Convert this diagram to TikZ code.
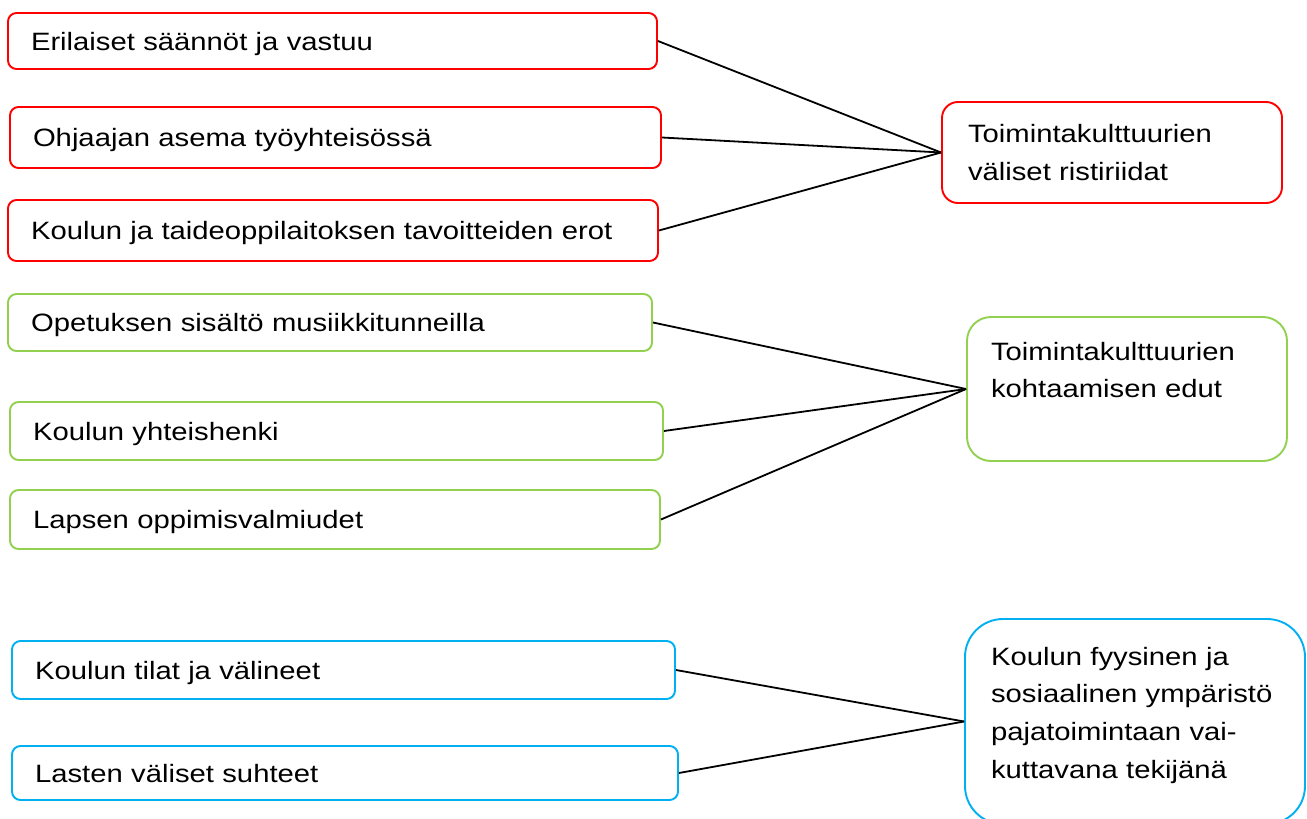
\documentclass[tikz,border=0pt]{standalone}
\usepackage{fontspec}
\setmainfont{Liberation Sans}[FakeStretch=1.165]
\definecolor{boxred}{HTML}{FF0000}
\definecolor{boxgreen}{HTML}{92D050}
\definecolor{boxblue}{HTML}{00B0F0}
\tikzset{
  item/.style={draw=#1, line width=1.9pt, rounded corners=8.5pt, fill=white,
    align=left, inner ysep=0pt, inner xsep=23pt,
    text height=18pt, text depth=0pt,
    font=\fontsize{25.1}{37.7}\selectfont},
  topic/.style={draw=#1, line width=1.9pt, fill=white,
    align=left, inner ysep=0pt,
    text height=18pt,
    font=\fontsize{25.1}{37.7}\selectfont},
  link/.style={draw=black, line width=1.8pt}
}
\begin{document}
\begin{tikzpicture}[x=1pt, y=-1pt]
\useasboundingbox (0,0) rectangle (1307,819);
\clip (0,0) rectangle (1307,819);

% conflicts between operating cultures
\node[item=boxred, minimum width=649pt, minimum height=56pt, text width=603pt] (r1) at (332.5,41) {Erilaiset säännöt ja vastuu};
\node[item=boxred, minimum width=651pt, minimum height=61pt, text width=605pt] (r2) at (335.5,137.5) {Ohjaajan asema työyhteisössä};
\node[item=boxred, minimum width=650pt, minimum height=61pt, text width=604pt] (r3) at (333,230.5) {Koulun ja taideoppilaitoksen tavoitteiden erot};
\node[topic=boxred, rounded corners=16pt, minimum width=340pt, minimum height=101pt,
      inner xsep=26pt, text width=288pt, text depth=37.7pt] (R) at (1112,152.5)
      {Toimintakulttuurien\\väliset ristiriidat};

% benefits of the cultures meeting
\node[item=boxgreen, minimum width=644pt, minimum height=57pt, text width=598pt] (g1) at (330,322.5) {Opetuksen sisältö musiikkitunneilla};
\node[item=boxgreen, minimum width=653pt, minimum height=58pt, text width=607pt] (g2) at (336.5,431) {Koulun yhteishenki};
\node[item=boxgreen, minimum width=650pt, minimum height=59pt, text width=604pt] (g3) at (335,519.5) {Lapsen oppimisvalmiudet};
\node[topic=boxgreen, rounded corners=24pt, minimum width=320pt, minimum height=144pt,
      inner xsep=24pt, text width=272pt, text depth=76pt] (G) at (1127,389)
      {Toimintakulttuurien\\kohtaamisen edut};

% school environment
\node[item=boxblue, minimum width=663pt, minimum height=58pt, text width=617pt] (b1) at (343.5,670) {Koulun tilat ja välineet};
\node[item=boxblue, minimum width=666pt, minimum height=54pt, text width=620pt] (b2) at (345,773) {Lasten väliset suhteet};
\node[topic=boxblue, rounded corners=38pt, minimum width=340pt, minimum height=205pt,
      inner xsep=26pt, text width=288pt, text depth=131pt] (B) at (1135,721.5)
      {Koulun fyysinen ja\\sosiaalinen ympäristö\\pajatoimintaan vai-\\kuttavana tekijänä};

% connectors
\foreach \n in {r1,r2,r3} \draw[link] (\n.east) -- (R.west);
\foreach \n in {g1,g2,g3} \draw[link] (\n.east) -- (G.west);
\foreach \n in {b1,b2} \draw[link] (\n.east) -- (B.west);
\end{tikzpicture}
\end{document}
